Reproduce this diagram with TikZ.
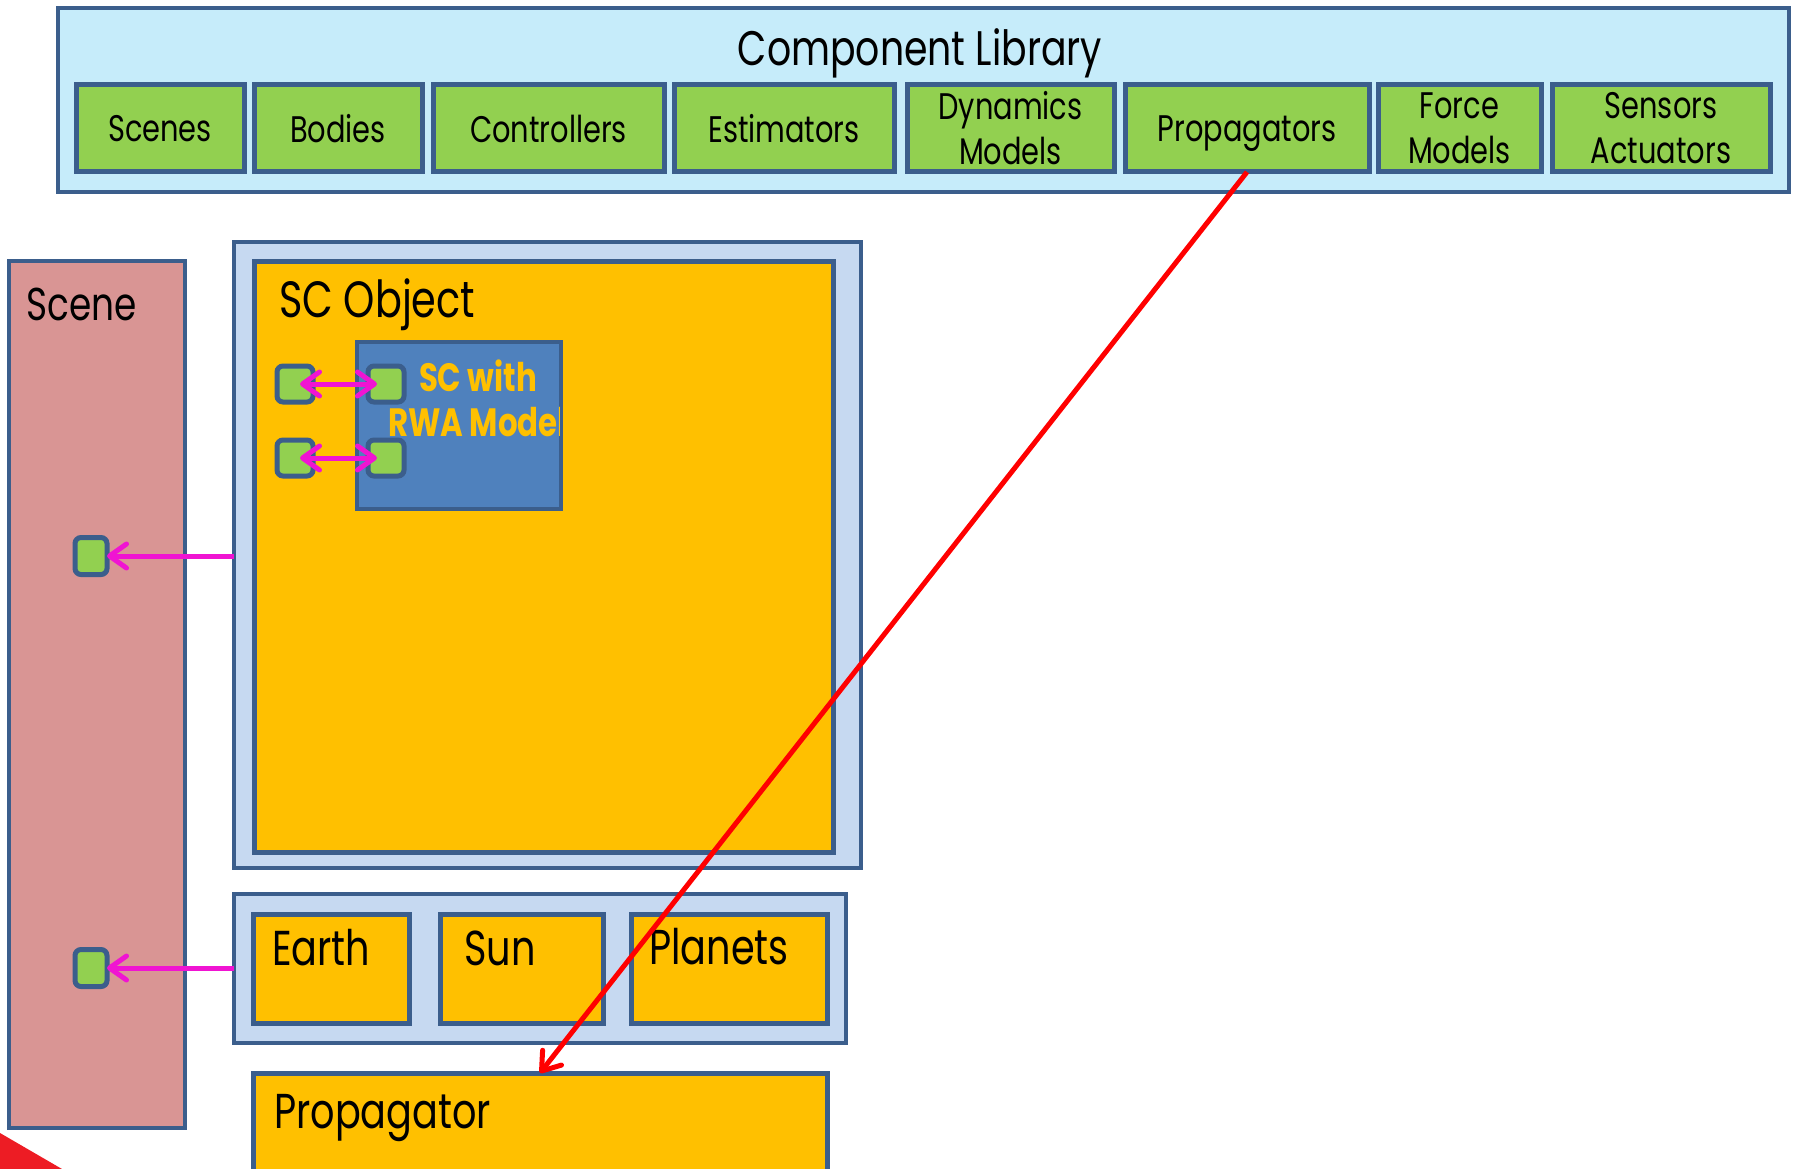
\documentclass[tikz,border=0pt]{standalone}
\usepackage{fontspec}
\setmainfont{Poppins}[FakeStretch=0.78]
\usetikzlibrary{arrows.meta,calc}
\definecolor{bord}{RGB}{59,94,140}
\definecolor{libfill}{RGB}{198,236,250}
\definecolor{cgreen}{RGB}{146,208,80}
\definecolor{scenepink}{RGB}{217,149,148}
\definecolor{paleblue}{RGB}{198,217,241}
\definecolor{corange}{RGB}{255,192,0}
\definecolor{cblue}{RGB}{79,129,189}
\definecolor{cmagenta}{RGB}{240,20,210}
\definecolor{cred}{RGB}{255,0,0}
\definecolor{cornerred}{RGB}{237,28,36}
\tikzset{
  box/.style={draw=bord, line width=4pt, inner sep=0pt, outer sep=0pt},
  gbox/.style={box, fill=cgreen, line width=5pt, minimum height=87pt, align=center,
    font=\fontsize{37}{45}\selectfont},
  obox/.style={box, fill=corange, line width=5pt},
  port/.style={draw=bord, line width=5pt, fill=cgreen, rounded corners=6pt,
    inner sep=0pt, outer sep=0pt},
  bigtext/.style={inner sep=0pt, font=\fontsize{49}{52}\selectfont},
  mtip/.tip={Straight Barb[length=17pt,width=24pt,round]},
  marrow/.style={draw=cmagenta, line width=5pt, arrows={-mtip}},
  rarrow/.style={draw=cred, line width=5pt, arrows={-Straight Barb[length=17pt,width=24pt,round]}}
}
\begin{document}
\begin{tikzpicture}[x=1pt,y=-1pt]
\path[use as bounding box, clip] (0,0) rectangle (1795,1169);
\fill[white] (0,0) rectangle (1795,1169);

% Component library
\node[box, fill=libfill, minimum width=1731pt, minimum height=184pt] (lib) at (923.5,100) {};
\node[anchor=base, inner sep=0pt, font=\fontsize{48.5}{52}\selectfont] (libtitle) at (920,66) {Component Library};
\node[gbox, minimum width=168pt] (gScenes) at (160,128.5) {Scenes};
\node[gbox, minimum width=168pt] (gBodies) at (338,128.5) {Bodies};
\node[gbox, minimum width=231pt] (gControllers) at (548.5,128.5) {Controllers};
\node[gbox, minimum width=220pt] (gEstimators) at (784,128.5) {Estimators};
\node[gbox, minimum width=207pt] (gDynamics) at (1010.5,128.5) {Dynamics\\Models};
\node[gbox, minimum width=244pt, text depth=0pt] (gPropagators) at (1247,128.5) {Propagators};
\node[gbox, minimum width=163pt] (gForce) at (1459.5,128.5) {Force\\Models};
\node[gbox, minimum width=218pt] (gSensors) at (1661,128.5) {Sensors\\Actuators};

% Scene
\node[box, fill=scenepink, minimum width=176pt, minimum height=867pt] (scene) at (97,694.5) {};
\node[inner sep=0pt, font=\fontsize{46}{50}\selectfont, anchor=base west] (scenetitle) at (26,320) {Scene};
\node[port, minimum width=32pt, minimum height=37pt] (sp1) at (91,556) {};
\node[port, minimum width=32pt, minimum height=37pt] (sp2) at (91,968) {};

% SC object
\node[box, fill=paleblue, minimum width=627pt, minimum height=626pt] (scouter) at (547.5,555) {};
\node[obox, minimum width=579pt, minimum height=591pt] (scinner) at (543.5,556.5) {};
\node[inner sep=0pt, font=\fontsize{51}{54}\selectfont, anchor=base west] (sctitle) at (279,317) {SC Object};
\node[box, fill=cblue, minimum width=204pt, minimum height=167pt] (rwa) at (459,425.5) {};
\begin{scope}
  \clip (359,344) rectangle (559,507);
  \node[anchor=base, inner sep=0pt, text=corange, font=\fontsize{39.5}{44}\selectfont\bfseries] (rwa1) at (478,391) {SC with};
  \node[anchor=base west, inner sep=0pt, text=corange, font=\fontsize{39.5}{44}\selectfont\bfseries] (rwa2) at (388,436) {RWA Model};
\end{scope}
\node[port, minimum width=36pt, minimum height=36pt] (pa1) at (295,384) {};
\node[port, minimum width=36pt, minimum height=36pt] (pb1) at (386,384) {};
\node[port, minimum width=36pt, minimum height=36pt] (pa2) at (295,458) {};
\node[port, minimum width=36pt, minimum height=36pt] (pb2) at (386,458) {};
\draw[marrow, arrows={mtip-mtip}, shorten <=5pt, shorten >=9pt] (pa1.center) -- (pb1.center);
\draw[marrow, arrows={mtip-mtip}, shorten <=5pt, shorten >=9pt] (pa2.center) -- (pb2.center);

% Bodies
\node[box, fill=paleblue, minimum width=612pt, minimum height=149pt] (bodies) at (540,968.5) {};
\node[obox, minimum width=156pt, minimum height=109pt] (earth) at (331,968.5) {};
\node[obox, minimum width=163pt, minimum height=109pt] (sun) at (521.5,968.5) {};
\node[obox, minimum width=196pt, minimum height=109pt] (planets) at (729,968.5) {};
\node[bigtext, anchor=base west] (earthtxt) at (272,965) {Earth};
\node[bigtext, anchor=base west] (suntxt) at (464,965) {Sun};
\node[bigtext, anchor=base west] (planetstxt) at (649,964) {Planets};

% Propagator
\node[obox, minimum width=574pt, minimum height=120pt] (propbox) at (540,1133) {};
\node[bigtext, anchor=base west] (proptxt) at (274,1128) {Propagator};

% connectors
\draw[marrow] (scouter.west |- sp1) -- (sp1.east);
\draw[marrow] (bodies.west |- sp2) -- (sp2.east);
\draw[rarrow] (gPropagators.south) -- (propbox.north);

% corner triangle
\fill[cornerred] (0,1133) -- (62,1169) -- (0,1169) -- cycle;
\end{tikzpicture}
\end{document}
